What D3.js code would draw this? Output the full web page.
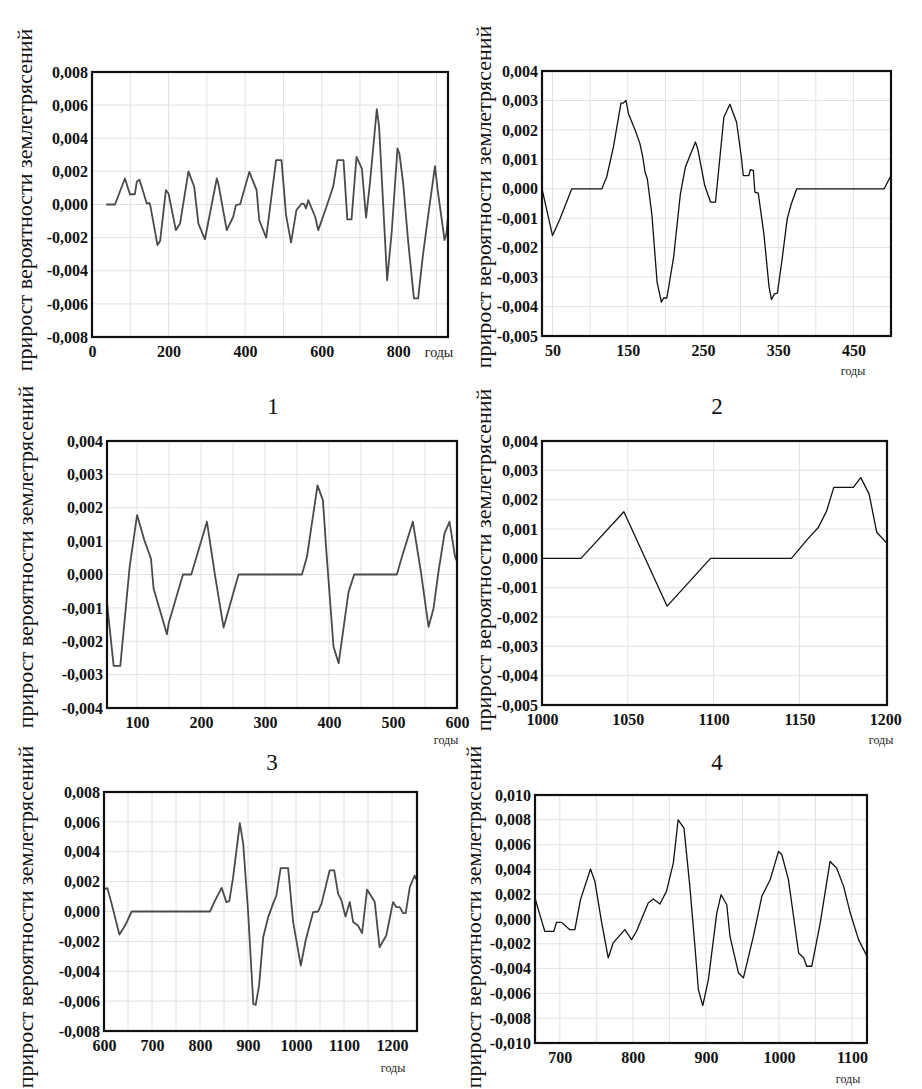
<!DOCTYPE html>
<html><head><meta charset="utf-8">
<script src="https://cdn.jsdelivr.net/npm/d3@7"></script>
</head><body style="margin:0;background:#fff">
<svg id="c" width="922" height="1089" style="display:block"></svg>
<script>
// ---------- DATA ----------
const yTitle = "прирост вероятности землетрясений";
const xUnit = "годы";
const panelNumbers = ["1", "2", "3", "4"];

// Panel 1
const p1Years = [37,60,86,99,112,117,124,134,143,150,153,171,178,193,200,219,230,252,267,278,295,326,330,352,369,376,387,411,430,437,455,481,495,507,520,534,548,554,559,565,583,591,611,630,641,657,667,678,691,705,716,726,744,750,771,783,798,803,813,826,841,852,864,879,896,903,921,926,930];
const p1Values = [0,0,0.00157,0.00062,0.00062,0.00137,0.0015,0.00076,0.00006,0.0001,-0.00014,-0.00245,-0.0022,0.00087,0.00066,-0.00155,-0.00115,0.002,0.00107,-0.00115,-0.0021,0.00157,0.00127,-0.00155,-0.00074,-0.00004,0.00002,0.00197,0.00087,-0.00095,-0.002,0.00268,0.00268,-0.00064,-0.0023,-0.00034,0.00006,0.00002,-0.00024,0.00026,-0.00074,-0.00155,-0.00024,0.00107,0.00268,0.00268,-0.0009,-0.0009,0.00288,0.00217,-0.0008,0.00127,0.00575,0.0047,-0.00457,-0.00165,0.00338,0.00308,0.00127,-0.00225,-0.00567,-0.00567,-0.00316,-0.00054,0.00231,0.00087,-0.00215,-0.00175,-0.00074];
const p1XTicks = [0,200,400,600,800];
const p1XGrid = [100,200,300,400,500,600,700,800,900];
const p1YTicks = [-0.008,-0.006,-0.004,-0.002,0,0.002,0.004,0.006,0.008];

// Panel 2
const p2Years = [36,50,60,75.6,115.6,122,131,141,144,147.6,151,160,166,170,173,176,182,189,194.7,197.8,202,211,220,226.7,240,243,252.4,260,266.7,277.8,285.8,294.7,301,303.6,311,313,317,319,323.5,331,337.8,341,345,349,355.6,362,367.5,374.7,491,500];
const p2Values = [0,-0.00159,-0.00102,0,0,0.0004,0.00142,0.00291,0.00291,0.003,0.00255,0.00198,0.00155,0.00108,0.00057,0.00034,-0.00085,-0.00317,-0.00385,-0.00371,-0.00371,-0.00232,-0.00017,0.00074,0.00159,0.00136,0.00011,-0.00045,-0.00045,0.00243,0.00287,0.00226,0.00108,0.00045,0.00045,0.00065,0.00062,-0.00011,-0.00015,-0.00153,-0.00332,-0.00376,-0.00357,-0.00354,-0.00232,-0.00102,-0.00051,0,0,0.00045];
const p2XTicks = [50,150,250,350,450];
const p2XGrid = [50,100,150,200,250,300,350,400,450];
const p2YTicks = [-0.005,-0.004,-0.003,-0.002,-0.001,0,0.001,0.002,0.003,0.004];

// Panel 3
const p3Years = [53,63.4,73.8,88.4,100,111.3,121.7,125.8,146.7,149.3,171.7,184.7,209.2,222.2,235.2,258.6,357.7,365.5,382,390.5,395.7,407,415,430.5,439.4,506,514,531,543.6,555.5,563.3,571,580.5,588.3,597,600];
const p3Values = [-0.00085,-0.00274,-0.00274,0.00023,0.00178,0.00103,0.00048,-0.00042,-0.00179,-0.00147,0,0,0.00158,-0.00007,-0.00159,0,0,0.00053,0.00267,0.00222,0.00073,-0.00216,-0.00266,-0.00052,0,0,0.00053,0.00158,0.00008,-0.00157,-0.00102,0.00008,0.00123,0.00158,0.00053,0.0004];
const p3XTicks = [100,200,300,400,500,600];
const p3XGrid = [100,150,200,250,300,350,400,450,500,550];
const p3YTicks = [-0.004,-0.003,-0.002,-0.001,0,0.001,0.002,0.003,0.004];

// Panel 4
const p4Years = [1000,1022.7,1047.7,1072.9,1098.2,1145.3,1156,1161,1165.8,1170,1181.4,1185.7,1190.6,1195,1201];
const p4Values = [0,0,0.00159,-0.00163,0,0,0.00074,0.00105,0.00161,0.00242,0.00242,0.00275,0.00219,0.00089,0.00051];
const p4XTicks = [1000,1050,1100,1150,1200];
const p4XGrid = [1050,1100,1150];
const p4YTicks = [-0.005,-0.004,-0.003,-0.002,-0.001,0,0.001,0.002,0.003,0.004];

// Panel 5
const p5Years = [602,607,616,632,644,657.6,820.6,833,845,855,861,869,875,883,890,900,911,916,923,931.6,942,952,959,968,983.6,994,1010,1020,1035.7,1046,1053,1070,1079.6,1087.7,1094.6,1103,1112,1119,1129,1137.6,1148,1164,1174,1188,1202,1209,1216,1223,1228.5,1237,1247,1250];
const p5Values = [0.00152,0.00156,0.00051,-0.00154,-0.00094,0,0,0.00085,0.00158,0.00063,0.00069,0.0023,0.00386,0.00592,0.00453,0.00007,-0.00618,-0.00625,-0.00496,-0.00172,-0.00038,0.00051,0.00107,0.0029,0.0029,-0.00071,-0.00362,-0.00194,-0.00004,0,0.00051,0.00275,0.00275,0.00118,0.00074,-0.00033,0.00063,-0.00071,-0.00094,-0.00145,0.00147,0.00063,-0.00239,-0.00161,0.00063,0.00029,0.00029,-0.00011,-0.00011,0.00163,0.00241,0.00215];
const p5XTicks = [600,700,800,900,1000,1100,1200];
const p5XGrid = [650,700,750,800,850,900,950,1000,1050,1100,1150,1200];
const p5YTicks = [-0.008,-0.006,-0.004,-0.002,0,0.002,0.004,0.006,0.008];

// Panel 6
const p6Years = [666,672.6,679.4,691.8,695.4,702.3,713.7,720.6,728.3,742,748,757,766.3,773,789,798.3,805,821,828,837,846,855.4,862,870,878,885,889.7,895.7,903.4,914.9,920.8,928.6,933,944.6,951.4,965,976.6,988,999.4,1004,1013,1027,1034,1038,1045,1056.6,1070,1079,1088.6,1097.7,1109,1116,1120];
const p6Values = [0.00169,0.00035,-0.00099,-0.00099,-0.00027,-0.00027,-0.00086,-0.00086,0.00156,0.00403,0.00303,-0.00019,-0.00314,-0.00193,-0.00086,-0.00166,-0.00099,0.00129,0.00161,0.00121,0.00223,0.00451,0.008,0.00733,0.00263,-0.0022,-0.00569,-0.00698,-0.00489,0.00048,0.00196,0.00115,-0.0014,-0.00435,-0.00475,-0.0014,0.00183,0.00317,0.00545,0.00518,0.00317,-0.00274,-0.00314,-0.00381,-0.00381,-0.00032,0.00464,0.00411,0.00263,0.00048,-0.00166,-0.00247,-0.00295];
const p6XTicks = [700,800,900,1000,1100];
const p6XGrid = [700,750,800,850,900,950,1000,1050,1100];
const p6YTicks = [-0.010,-0.008,-0.006,-0.004,-0.002,0,0.002,0.004,0.006,0.008,0.010];

// ---------- LAYOUT ----------
const panels = [
  {years:p1Years, values:p1Values, xTicks:p1XTicks, xGrid:p1XGrid, yTicks:p1YTicks,
   box:[92,448,72,337], xDomain:[0,930], color:"#4a4a4a", lw:1.8,
   titleX:32, titleCY:200, unit:[439,357,14]},
  {years:p2Years, values:p2Values, xTicks:p2XTicks, xGrid:p2XGrid, yTicks:p2YTicks,
   box:[542,891,71,336], xDomain:[36,500], color:"#111", lw:1.3,
   titleX:491, titleCY:197, unit:[853,375,12]},
  {years:p3Years, values:p3Values, xTicks:p3XTicks, xGrid:p3XGrid, yTicks:p3YTicks,
   box:[107,457,441,708], xDomain:[53,600], color:"#4a4a4a", lw:1.8,
   titleX:33, titleCY:557, unit:[446,744,12]},
  {years:p4Years, values:p4Values, xTicks:p4XTicks, xGrid:p4XGrid, yTicks:p4YTicks,
   box:[542,887,441,705], xDomain:[1000,1201], color:"#111", lw:1.3,
   titleX:491, titleCY:560, unit:[881,744,12]},
  {years:p5Years, values:p5Values, xTicks:p5XTicks, xGrid:p5XGrid, yTicks:p5YTicks,
   box:[104,417,792,1031], xDomain:[600,1252], color:"#4a4a4a", lw:1.8,
   titleX:33, titleCY:917, unit:[393,1072,12]},
  {years:p6Years, values:p6Values, xTicks:p6XTicks, xGrid:p6XGrid, yTicks:p6YTicks,
   box:[535,867,795,1043], xDomain:[666,1120.6], color:"#111", lw:1.3,
   titleX:481, titleCY:917, unit:[848,1083,12]}
];
const numberPos = [[273,414],[717,414],[272,770],[717,770]];

const FONT = "Liberation Serif";
const loc = d3.formatLocale({decimal:",", thousands:" ", grouping:[3], currency:["",""], minus:"-"});
const svg = d3.select("#c");

panels.forEach((p, i) => {
  const [L, R, T, B] = p.box;
  const x = d3.scaleLinear().domain(p.xDomain).range([L, R]);
  const yMax = d3.max(p.yTicks), yMin = d3.min(p.yTicks);
  const y = d3.scaleLinear().domain([yMin, yMax]).range([B, T]);
  const g = svg.append("g");
  const fmt = loc.format(".3f");

  // grid
  g.append("g").selectAll("line").data(p.yTicks.filter(v => v > yMin && v < yMax)).join("line")
    .attr("x1", L).attr("x2", R).attr("y1", d => y(d)).attr("y2", d => y(d))
    .attr("stroke", "#e2e2e2").attr("stroke-width", 1);
  g.append("g").selectAll("line").data(p.xGrid.filter(v => x(v) > L + 1 && x(v) < R - 1)).join("line")
    .attr("x1", d => x(d)).attr("x2", d => x(d)).attr("y1", T).attr("y2", B)
    .attr("stroke", "#e2e2e2").attr("stroke-width", 1);

  // clip
  const cid = "clip" + i;
  svg.append("clipPath").attr("id", cid).append("rect")
    .attr("x", L).attr("y", T).attr("width", R - L).attr("height", B - T);

  const pts = p.years.map((yr, k) => [yr, p.values[k]]);
  g.append("path").datum(pts)
    .attr("clip-path", `url(#${cid})`)
    .attr("fill", "none").attr("stroke", p.color).attr("stroke-width", p.lw)
    .attr("stroke-linejoin", "round")
    .attr("d", d3.line().x(d => x(d[0])).y(d => y(d[1])));

  // frame
  g.append("rect").attr("x", L).attr("y", T).attr("width", R - L).attr("height", B - T)
    .attr("fill", "none").attr("stroke", "#111").attr("stroke-width", 2.2);

  // y axis
  const ya = d3.axisLeft(y).tickValues(p.yTicks).tickFormat(fmt).tickSize(0).tickPadding(3);
  const yg = g.append("g").attr("transform", `translate(${L - 1},0)`).call(ya);
  yg.attr("font-family", FONT).attr("font-size", 16).attr("font-weight", "bold");
  yg.select(".domain").remove();
  yg.selectAll("text").attr("fill", "#111");

  // x axis
  const xa = d3.axisBottom(x).tickValues(p.xTicks).tickFormat(d3.format("d")).tickSize(0).tickPadding(9);
  const xg = g.append("g").attr("transform", `translate(0,${B})`).call(xa);
  xg.attr("font-family", FONT).attr("font-size", 16).attr("font-weight", "bold");
  xg.select(".domain").remove();
  xg.selectAll("text").attr("fill", "#111");

  // unit label
  g.append("text").attr("x", p.unit[0]).attr("y", p.unit[1]).attr("text-anchor", "middle")
    .attr("font-family", FONT).attr("font-size", p.unit[2]).attr("fill", "#222").text(xUnit);

  // y title
  g.append("text").attr("transform", `translate(${p.titleX},${p.titleCY}) rotate(-90)`)
    .attr("text-anchor", "middle").attr("font-family", FONT).attr("font-size", 22)
    .attr("fill", "#111").text(yTitle);
});

svg.selectAll("text.num").data(panelNumbers).join("text").attr("class", "num")
  .attr("x", (d, i) => numberPos[i][0]).attr("y", (d, i) => numberPos[i][1])
  .attr("text-anchor", "middle").attr("font-family", FONT).attr("font-size", 23)
  .attr("fill", "#111").text(d => d);
</script>
</body></html>
